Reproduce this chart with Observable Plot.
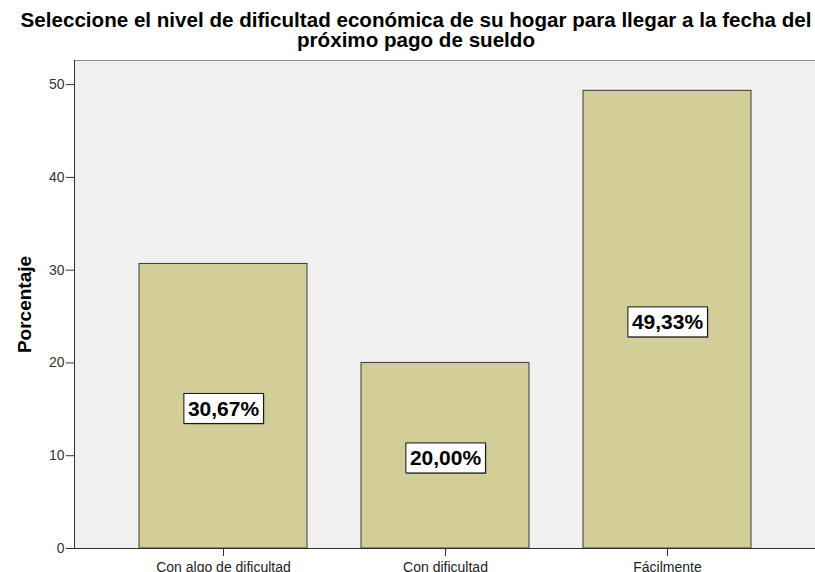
<!DOCTYPE html>
<html>
<head>
<meta charset="utf-8">
<script src="https://cdn.jsdelivr.net/npm/d3@7"></script>
<script src="https://cdn.jsdelivr.net/npm/@observablehq/plot@0.6"></script>
<style>
  html, body { margin: 0; padding: 0; background: #fff; overflow: hidden; }
  #title {
    width: 815px; height: 50px; box-sizing: border-box;
    padding-top: 10px; padding-left: 17px;
    font-family: "Liberation Sans", Arial, sans-serif; font-weight: bold;
    font-size: 20.6px; line-height: 20px; text-align: center; white-space: nowrap; color: #000;
  }
  #chart svg { display: block; }
</style>
</head>
<body>
<div id="title">Seleccione el nivel de dificultad económica de su hogar para llegar a la fecha del<br>próximo pago de sueldo</div>
<div id="chart"></div>
<script>
const categories = ["Con algo de dificultad", "Con dificultad", "Fácilmente"];
const values = [30.67, 20.00, 49.33];
const valueLabels = ["30,67%", "20,00%", "49,33%"];
const yTicks = [0, 10, 20, 30, 40, 50];
const yMax = 52.6;
const yTitle = "Porcentaje";

const data = categories.map((c, i) => ({cat: c, value: values[i], label: valueLabels[i]}));

const chart = Plot.plot({
  width: 815,
  height: 522,
  marginTop: 10,
  marginBottom: 24,
  marginLeft: 74,
  marginRight: 0,
  style: {fontFamily: "'Liberation Sans', Arial, sans-serif", color: "#222", background: "transparent", overflow: "visible"},
  x: {domain: categories, paddingInner: 0.245, paddingOuter: 0.2877, axis: null},
  y: {domain: [0, yMax], axis: null},
  marks: [
    Plot.frame({fill: "#f0f0f0", stroke: null}),
    Plot.ruleY([yMax], {stroke: "#8a8a8a", strokeWidth: 1}),
    Plot.barY(data, {x: "cat", y: "value", fill: "#d3ce97", stroke: "#3a3a3a", strokeWidth: 1}),
    Plot.frame({anchor: "left", stroke: "#333"}),
    Plot.ruleY([0], {stroke: "#333"}),
    Plot.axisY({ticks: yTicks, tickSize: 8, tickPadding: 2, fontSize: 14, label: null, stroke: "#333", fill: "#333"}),
    Plot.axisX({tickSize: 8, tickPadding: 6, fontSize: 14, label: null, stroke: "#333", fill: "#222"}),
    Plot.text(data, {x: "cat", y: d => d.value / 2, text: "label", fontSize: 21, fontWeight: "bold", dy: 3, fill: "#000"}),
    Plot.text([yTitle], {frameAnchor: "left", textAnchor: "middle", dx: -50, rotate: -90, fontWeight: "bold", fontSize: 19, fill: "#000"})
  ]
});
document.getElementById("chart").appendChild(chart);

// white boxes behind value labels
const svgNS = "http://www.w3.org/2000/svg";
chart.querySelectorAll("text").forEach(t => {
  if (!valueLabels.includes(t.textContent)) return;
  const b = t.getBBox();
  const padX = 4, padY = 3.5;
  const shadow = document.createElementNS(svgNS, "rect");
  const rect = document.createElementNS(svgNS, "rect");
  for (const [el, off] of [[shadow, 1], [rect, 0]]) {
    el.setAttribute("x", b.x - padX + off);
    el.setAttribute("y", b.y - padY + off);
    el.setAttribute("width", b.width + 2 * padX);
    el.setAttribute("height", b.height + 2 * padY);
    if (t.getAttribute("transform")) el.setAttribute("transform", t.getAttribute("transform"));
  }
  shadow.setAttribute("fill", "#777");
  rect.setAttribute("fill", "#fff");
  rect.setAttribute("stroke", "#111");
  rect.setAttribute("stroke-width", "1");
  t.parentNode.insertBefore(shadow, t);
  t.parentNode.insertBefore(rect, t);
});
</script>
</body>
</html>
